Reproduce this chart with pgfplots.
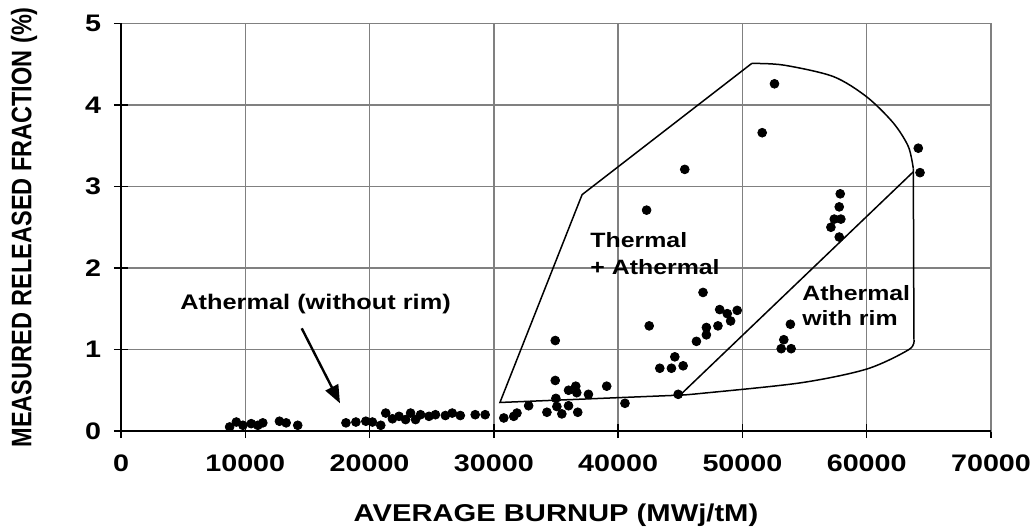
\documentclass[border=0pt]{standalone}
\usepackage{pgfplots}
\pgfplotsset{compat=1.18}
\usepackage{pgfplotstable}
\usepackage{fontspec}
\setmainfont{Liberation Sans}
\newfontfamily\widefont{Liberation Sans}[FakeStretch=1.2]
\usetikzlibrary{arrows.meta}

% Fission gas release measurements: burnup (MWj/tM) vs released fraction (%)
\pgfplotstableread{
x y
8740 0.05
9280 0.11
9810 0.07
10480 0.09
11010 0.07
11410 0.10
12750 0.12
13290 0.10
14220 0.07
18100 0.10
18900 0.11
19700 0.12
20230 0.11
20900 0.07
21300 0.22
21840 0.15
22370 0.18
22900 0.14
23300 0.22
23700 0.14
24100 0.20
24780 0.18
25300 0.20
26100 0.19
26650 0.22
27300 0.19
28500 0.20
29300 0.20
30800 0.16
31600 0.18
32800 0.31
31860 0.22
34270 0.23
35470 0.21
36750 0.23
35070 0.30
36010 0.31
34990 0.40
37610 0.45
36670 0.47
36010 0.50
36590 0.55
34940 0.62
39080 0.55
40550 0.34
34940 1.11
42500 1.29
42290 2.71
45360 3.21
44830 0.45
43350 0.77
44290 0.77
45230 0.80
44560 0.91
46300 1.10
47100 1.18
47100 1.27
48030 1.29
49050 1.35
48780 1.44
48170 1.49
49580 1.48
46830 1.70
51590 3.66
52580 4.26
53120 1.01
53920 1.01
53330 1.12
53860 1.31
57790 2.38
57120 2.50
57390 2.60
57920 2.60
57790 2.75
57870 2.91
64290 3.17
64150 3.47
}\burnup

\begin{document}
\begin{tikzpicture}
\begin{axis}[
  scale only axis,
  width=435bp, height=203.75bp,
  xmin=0, xmax=70000, ymin=0, ymax=5,
  xtick={0,10000,20000,30000,40000,50000,60000,70000},
  ytick={0,1,2,3,4,5},
  scaled x ticks=false,
  /pgf/number format/.cd, fixed, 1000 sep={}, assume math mode=true,
  /pgfplots/.cd,
  grid=major,
  grid style={black!50, line width=0.75bp},
  axis line style={black!50, line width=0.75bp},
  tick pos=left,
  tick align=center,
  major tick length=7bp,
  tick style={black, line width=0.7bp},
  ticklabel style={font=\widefont\bfseries\fontsize{12}{14}\selectfont},
  xticklabel style={yshift=-5bp},
  yticklabel style={xshift=-3bp},
  xlabel={AVERAGE BURNUP (MWj/tM)},
  ylabel={MEASURED RELEASED FRACTION (\%)},
  xlabel style={font=\widefont\bfseries\fontsize{12.2}{14}\selectfont,
                at={(axis description cs:0.5,-0.206)}, anchor=center},
  ylabel style={font=\bfseries\fontsize{11.8}{14}\selectfont,
                at={(axis description cs:-0.1115,0.5)}, anchor=center, yscale=1.2},
  clip=false,
]
\coordinate (sw) at (rel axis cs:0,0);
% darker left and bottom axis lines
\draw[black, line width=0.8bp] (rel axis cs:0,1) -- (rel axis cs:0,0) -- (rel axis cs:1,0);

% region boundaries
\addplot[black, line width=0.75bp, sharp plot, no marks]
  coordinates {(44980,0.44) (30490,0.35) (37100,2.90) (50750,4.51)};
\addplot[black, line width=0.75bp, smooth, tension=0.5, no marks]
  coordinates {(50750,4.51) (53300,4.49) (57300,4.35) (60000,4.10) (62140,3.78) (63350,3.49) (63750,3.22)};
\addplot[black, line width=0.75bp, sharp plot, no marks]
  coordinates {(63750,3.22) (63800,1.12)};
\addplot[black, line width=0.75bp, smooth, tension=0.5, no marks]
  coordinates {(63800,1.12) (63400,1.00) (60000,0.76) (54630,0.59) (46590,0.46) (44980,0.44)};
\addplot[black, line width=0.75bp, sharp plot, no marks]
  coordinates {(44980,0.44) (63750,3.18)};

% measurements
\addplot[only marks, mark=*, mark size=2.2bp, black] table {\burnup};

% annotations
\node[anchor=west, inner sep=0pt, align=left, font=\widefont\bfseries\fontsize{10.4}{13.5}\selectfont]
  at (axis cs:37740,2.18) {Thermal\\+ Athermal};
\node[anchor=west, inner sep=0pt, align=left, font=\widefont\bfseries\fontsize{10.4}{12.5}\selectfont]
  at (axis cs:54790,1.54) {Athermal\\with rim};
\node[anchor=west, inner sep=0pt, font=\widefont\bfseries\fontsize{10.6}{12}\selectfont]
  at (axis cs:4750,1.56) {Athermal (without rim)};
\draw[-{Triangle[length=9bp,width=7bp]}, line width=1.2bp]
  (axis cs:14540,1.26) -- (axis cs:17620,0.34);
\end{axis}
\pgfresetboundingbox
\path (sw) ++(-60.5bp,-49bp) rectangle ++(518bp,264.5bp);
\end{tikzpicture}
\end{document}
